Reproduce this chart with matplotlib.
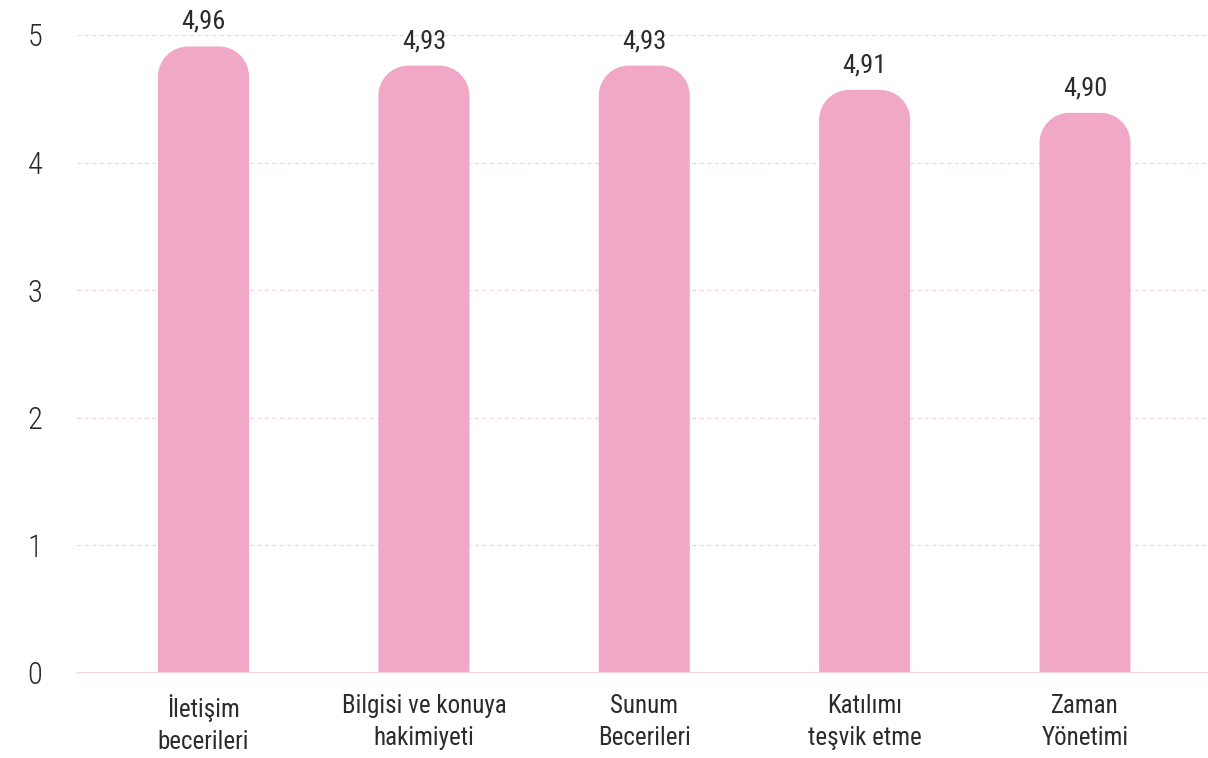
import matplotlib
matplotlib.use("Agg")
import matplotlib.pyplot as plt
from matplotlib.patches import PathPatch
from matplotlib.path import Path
import numpy as np

# Data
categories = ["İletişim\nbecerileri", "Bilgisi ve konuya\nhakimiyeti", "Sunum\nBecerileri",
              "Katılımı\nteşvik etme", "Zaman\nYönetimi"]
value_labels = ["4,96", "4,93", "4,93", "4,91", "4,90"]
bar_heights = [4.91, 4.76, 4.76, 4.57, 4.39]   # drawn heights as they appear in the picture
yticks = [0, 1, 2, 3, 4, 5]

BAR = "#F0A8C6"
GRID = "#F8CFDF"
INK = "#2B2B2B"

plt.rcParams["font.family"] = ["Roboto Condensed", "DejaVu Sans"]
plt.rcParams["font.stretch"] = "condensed"


def round_top_bar(x0, w, h, rx, ry):
    """Bar path with square bottom and rounded (elliptical in data units) top corners."""
    k = 0.5523
    x1 = x0 + w
    verts = [
        (x0, 0), (x1, 0), (x1, h - ry),
        (x1, h - ry + k * ry), (x1 - rx + k * rx, h), (x1 - rx, h),
        (x0 + rx, h),
        (x0 + rx - k * rx, h), (x0, h - ry + k * ry), (x0, h - ry),
        (x0, 0),
    ]
    codes = [Path.MOVETO, Path.LINETO, Path.LINETO,
             Path.CURVE4, Path.CURVE4, Path.CURVE4,
             Path.LINETO,
             Path.CURVE4, Path.CURVE4, Path.CURVE4,
             Path.CLOSEPOLY]
    return Path(verts, codes)


fig = plt.figure(figsize=(12.08, 7.58), dpi=100)
ax = fig.add_axes([77 / 1208, 1 - 673 / 758, (1208 - 77) / 1208, (673 - 35) / 758])

x = np.arange(len(categories))
width = 0.413
ax.set_xlim(-0.574, 4.558)
ax.set_ylim(0, 5)

# rounded tops: radius ~30 px
r_x = 30 / 220.4
r_y = 30 / 127.6
for xi, h in zip(x, bar_heights):
    ax.add_patch(PathPatch(round_top_bar(xi - width / 2, width, h, r_x, r_y),
                           facecolor=BAR, edgecolor="none", zorder=2))

for xi, h, lab in zip(x, bar_heights, value_labels):
    ax.annotate(lab, (xi, h), xytext=(0, 9), textcoords="offset points",
                ha="center", va="bottom", fontsize=19, color=INK)

for t in yticks[1:]:
    ax.axhline(t, color=GRID, lw=0.9, ls=(0, (3, 3)), zorder=1)
ax.axhline(0, color=GRID, lw=1.5, zorder=3)

ax.set_yticks(yticks)
ax.set_yticklabels([str(t) for t in yticks], fontsize=22, color=INK, fontweight="light")
ax.set_xticks(x)
ax.set_xticklabels(categories, fontsize=18, color=INK, linespacing=1.45)
ax.tick_params(axis="both", length=0)
ax.tick_params(axis="y", pad=25)
ax.tick_params(axis="x", pad=15)
for s in ax.spines.values():
    s.set_visible(False)

fig.savefig("out.png", dpi=100, facecolor="white")
